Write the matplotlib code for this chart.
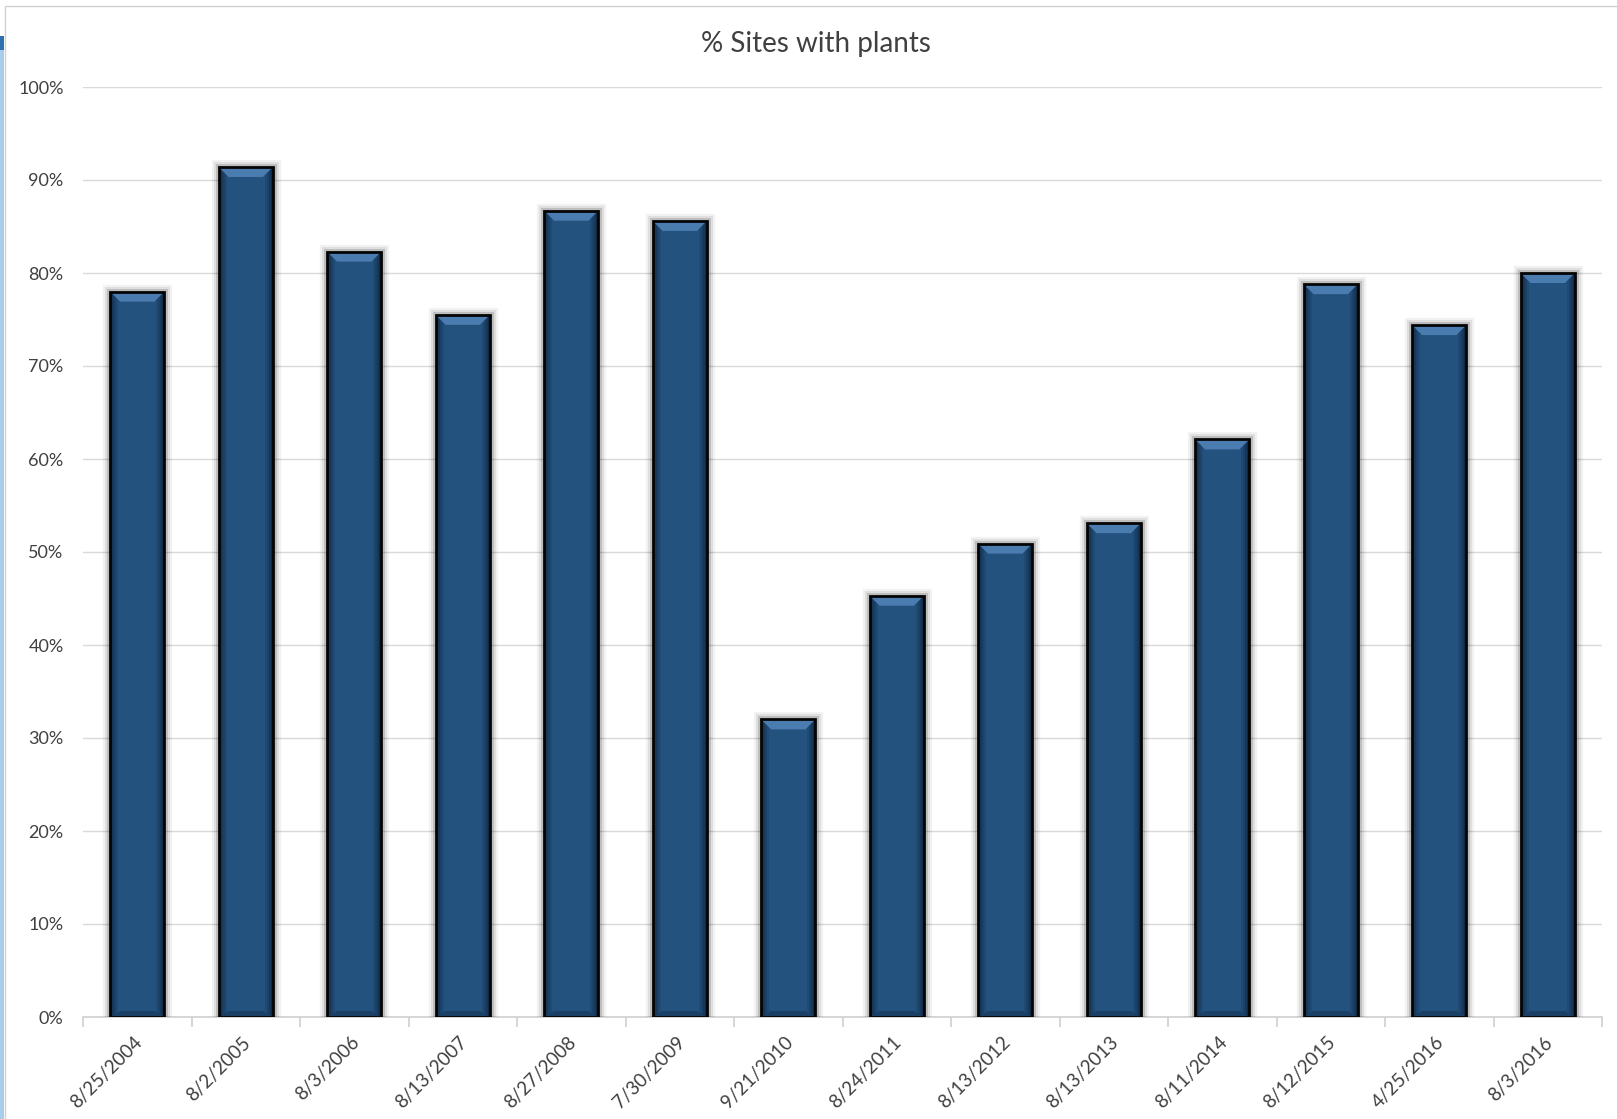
import matplotlib
matplotlib.use("Agg")
import matplotlib.pyplot as plt
import matplotlib.patheffects as pe
from matplotlib.patches import Polygon, Rectangle
from matplotlib.ticker import FuncFormatter, MultipleLocator, FixedLocator
import numpy as np

dates = ["8/25/2004", "8/2/2005", "8/3/2006", "8/13/2007", "8/27/2008", "7/30/2009",
         "9/21/2010", "8/24/2011", "8/13/2012", "8/13/2013", "8/11/2014", "8/12/2015",
         "4/25/2016", "8/3/2016"]
pct_sites = [78.0, 91.4, 82.3, 75.5, 86.7, 85.6, 32.0, 45.3, 50.9, 53.1, 62.1, 78.8, 74.4, 80.0]
title = "% Sites with plants"

plt.rcParams["font.family"] = ["Lato", "DejaVu Sans"]

W, H = 1617, 1119
fig = plt.figure(figsize=(W / 100, H / 100), dpi=100)
fig.patch.set_facecolor("white")

# outer chart frame and the light blue strip at the left edge
fig.add_artist(Rectangle((5 / W, -0.01), 1.2, 1 - 6 / H + 0.01, transform=fig.transFigure,
                         facecolor="none", edgecolor="#D0D0D0", linewidth=1.0))
fig.add_artist(Rectangle((0, 0), 4 / W, 1 - 36 / H, transform=fig.transFigure,
                         facecolor="#A9CDEB", edgecolor="none"))
fig.add_artist(Rectangle((0, 1 - 50 / H), 4 / W, 14 / H, transform=fig.transFigure,
                         facecolor="#2E6FB0", edgecolor="none"))

ax = fig.add_axes([83 / W, 1 - 1017 / H, (1602 - 83) / W, (1017 - 87) / H])
n = len(pct_sites)
x = np.arange(n)
bw = 0.5

ax.set_xlim(-0.5, n - 0.5)
ax.set_ylim(0, 100)

ax.yaxis.set_major_locator(MultipleLocator(10))
ax.yaxis.set_major_formatter(FuncFormatter(lambda v, p: f"{v:.0f}%"))
ax.grid(axis="y", color="#D9D9D9", linewidth=1.0)
ax.set_axisbelow(True)
for s in ["top", "right", "left"]:
    ax.spines[s].set_visible(False)
ax.spines["bottom"].set_color("#D0D0D0")
ax.spines["bottom"].set_linewidth(1.2)
ax.tick_params(axis="y", length=0, pad=14, labelsize=13, labelcolor="#404040")

ax.xaxis.set_major_locator(FixedLocator(x))
ax.set_xticklabels(dates, rotation=45, ha="right", rotation_mode="anchor",
                   fontsize=13.5, color="#404040")
ax.tick_params(axis="x", length=0, pad=12)
ax.xaxis.set_minor_locator(FixedLocator(np.arange(-0.5, n, 1.0)))
ax.tick_params(axis="x", which="minor", length=7, color="#D0D0D0", width=1.2)
for lbl in ax.get_xticklabels():
    lbl.set_transform(lbl.get_transform() + matplotlib.transforms.ScaledTranslation(-0.04, 0, fig.dpi_scale_trans))

# pixel -> data conversion for the bevel details
px_x = n / (1602 - 83)
px_y = 100 / (1017 - 87)

face = "#24527F"
bars = ax.bar(x, pct_sites, width=bw, color=face, edgecolor="none", zorder=3)
for b in bars:
    b.set_path_effects([pe.withStroke(linewidth=11, foreground=(0, 0, 0, 0.05)),
                        pe.withStroke(linewidth=8, foreground=(0, 0, 0, 0.08)),
                        pe.withStroke(linewidth=5, foreground=(0, 0, 0, 0.15)),
                        pe.Normal()])

bev_x = 10 * px_x
bev_y = 10 * px_y
side_cols = ["#0F2A48", "#163757", "#1B4167", "#204A74"]
for xi, v in zip(x, pct_sites):
    l, r = xi - bw / 2, xi + bw / 2
    # side shading, darkest at the outer edge
    for k, c in enumerate(side_cols):
        d0, d1 = k * 2 * px_x, (k + 1) * 2 * px_x
        ax.add_patch(Rectangle((l + d0, 0), d1 - d0, v, facecolor=c, edgecolor="none", zorder=4))
        ax.add_patch(Rectangle((r - d1, 0), d1 - d0, v, facecolor=c, edgecolor="none", zorder=4))
    # bottom shading
    ax.add_patch(Polygon([(l, 0), (r, 0), (r - bev_x, 0.6 * bev_y), (l + bev_x, 0.6 * bev_y)],
                         closed=True, facecolor="#1B4066", edgecolor="none", zorder=4))
    # top bevel highlight
    ax.add_patch(Polygon([(l, v), (r, v), (r - bev_x, v - bev_y), (l + bev_x, v - bev_y)],
                         closed=True, facecolor="#4A7CAF", edgecolor="none", zorder=5))
    ax.add_patch(Rectangle((l, 0), bw, v, facecolor="none", edgecolor="#050505",
                           linewidth=2.0, zorder=6))

fig.text(816 / W, 1 - 44 / H, title, ha="center", va="center",
         fontsize=20, color="#404040")

fig.savefig("out.png", dpi=100, facecolor="white")
